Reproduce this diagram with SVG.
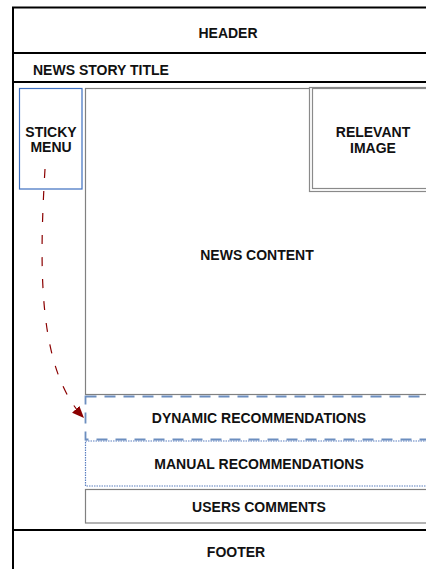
<svg xmlns="http://www.w3.org/2000/svg" width="426" height="569" viewBox="0 0 426 569">
  <style>
    .lbl { font-family: "Liberation Sans", Arial, sans-serif; font-weight: bold; font-size: 14px; fill: #111; }
    .mid { text-anchor: middle; }
    .frame { fill: none; stroke: #000; stroke-width: 2; }
    .box { fill: #fff; stroke: #808080; stroke-width: 1.2; }
  </style>
  <defs>
    <marker id="arrowHead" markerWidth="14" markerHeight="12" refX="12" refY="5" orient="auto" markerUnits="userSpaceOnUse">
      <path d="M0,0 L12,5 L0,10 Z" fill="#8b0000"/>
    </marker>
  </defs>

  <rect width="426" height="569" fill="#fff"/>

  <!-- page frame -->
  <g id="page">
    <line class="frame" x1="13" y1="7" x2="13" y2="569"/>
    <line class="frame" x1="12" y1="7.5" x2="426" y2="7.5"/>
  </g>

  <g id="header">
    <line class="frame" x1="12" y1="53" x2="426" y2="53"/>
    <text class="lbl mid" x="228" y="38">HEADER</text>
  </g>

  <g id="title">
    <line class="frame" x1="12" y1="82" x2="426" y2="82"/>
    <text class="lbl" x="33" y="75">NEWS STORY TITLE</text>
  </g>

  <g id="sticky-menu">
    <rect x="19.5" y="88.5" width="62.5" height="100.5" fill="#fff" stroke="#3d6fc0" stroke-width="1.2"/>
    <text class="lbl mid" x="51" y="137">STICKY</text>
    <text class="lbl mid" x="51" y="152">MENU</text>
  </g>

  <g id="news-content">
    <rect class="box" x="85.5" y="88.5" width="360" height="306"/>
    <text class="lbl mid" x="257" y="260">NEWS CONTENT</text>
  </g>

  <g id="relevant-image">
    <rect x="309.5" y="87.5" width="140" height="104" fill="#fff" stroke="#8a8a8a" stroke-width="1.2"/>
    <rect x="312.5" y="88.5" width="140" height="100" fill="none" stroke="#8a8a8a" stroke-width="1.2"/>
    <text class="lbl mid" x="373" y="137">RELEVANT</text>
    <text class="lbl mid" x="373" y="153">IMAGE</text>
  </g>

  <g id="manual-recommendations">
    <rect x="85.5" y="441" width="360" height="45" fill="#fff" stroke="#5b7fc0" stroke-width="1.2" stroke-dasharray="1.5 1"/>
    <text class="lbl mid" x="259" y="469">MANUAL RECOMMENDATIONS</text>
  </g>

  <g id="dynamic-recommendations">
    <rect x="85.5" y="396.5" width="360" height="43" fill="#fff" stroke="#6c8ebf" stroke-width="1.8" stroke-dasharray="11 8"/>
    <text class="lbl mid" x="259" y="423">DYNAMIC RECOMMENDATIONS</text>
  </g>

  <g id="users-comments">
    <rect class="box" x="85.5" y="489.5" width="360" height="33.5"/>
    <text class="lbl mid" x="259" y="512">USERS COMMENTS</text>
  </g>

  <g id="footer">
    <line class="frame" x1="12" y1="530" x2="426" y2="530"/>
    <text class="lbl mid" x="236" y="557">FOOTER</text>
  </g>

  <!-- connectors -->
  <g id="connectors">
    <path d="M45,169 C39,270 38,370 84,418" fill="none" stroke="#8b0000" stroke-width="1.2" stroke-dasharray="9 13" marker-end="url(#arrowHead)"/>
  </g>
</svg>
